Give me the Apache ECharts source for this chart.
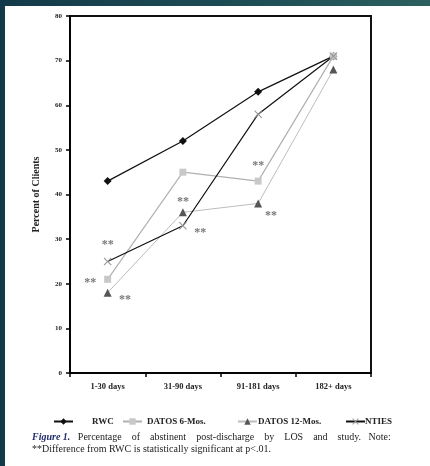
<!DOCTYPE html>
<html>
<head>
<meta charset="utf-8">
<script src="https://cdn.jsdelivr.net/npm/echarts@6/dist/echarts.min.js"></script>
<style>
  html, body { margin: 0; padding: 0; }
  body { width: 430px; height: 466px; position: relative; overflow: hidden;
         background: linear-gradient(to right, #133a4a 0%, #1d4c55 55%, #2b605e 100%); }
  #page { position: absolute; left: 5px; top: 6px; right: 0; bottom: 0; background: #fff; }
  #chartMain { position: absolute; left: 0; top: 0; width: 430px; height: 466px; }
</style>
</head>
<body>
<div id="page"></div>
<div id="chartMain"></div>
<script>
var categories = ['1-30 days', '31-90 days', '91-181 days', '182+ days'];
var rwc = [43, 52, 63, 71];
var datos6 = [21, 45, 43, 71];
var datos12 = [18, 36, 38, 68];
var nties = [25, 33, 58, 71];
// significance marks: [position on 0-4 scale, value]
var sigMarks = [[0.5, 28.6], [0.27, 20.3], [0.73, 16.4], [1.5, 38.4], [1.73, 31.3], [2.5, 46.3], [2.67, 35.2]];

var serif = '"Liberation Serif", "DejaVu Serif", serif';
var xPath = 'path://M0,1L1,0L5,4L9,0L10,1L6,5L10,9L9,10L5,6L1,10L0,9L4,5Z';

var myChart = echarts.init(document.getElementById('chartMain'));

function legendItem(name, left, pad) {
	return {
		data: [name],
		left: left,
		top: 412,
		itemWidth: 19,
		itemHeight: 8,
		selectedMode: false,
		textStyle: { fontFamily: serif, fontWeight: 'bold', fontSize: 9, color: '#222', padding: [0, 0, 0, pad] }
	};
}

var option = {
	animation: false,
	grid: { left: 70, top: 16, width: 301, height: 357, show: true, borderColor: '#111', borderWidth: 2 },
	legend: [
		legendItem('RWC', 48, 14),
		legendItem('DATOS 6-Mos.', 117, 0),
		legendItem('DATOS 12-Mos.', 232, -4),
		legendItem('NTIES', 340, -5)
	],
	xAxis: [{
		type: 'category',
		data: categories,
		boundaryGap: true,
		axisLine: { lineStyle: { color: '#000', width: 1.5 } },
		axisTick: { show: true, length: 4, lineStyle: { color: '#000', width: 1.5 } },
		axisLabel: { fontFamily: serif, fontWeight: 'bold', fontSize: 8.5, color: '#222', margin: 9 },
		splitLine: { show: false }
	}, {
		type: 'value', min: 0, max: 4, show: false
	}],
	yAxis: {
		type: 'value',
		min: 0, max: 80, interval: 10,
		name: 'Percent of Clients',
		nameLocation: 'middle',
		nameGap: 29,
		nameRotate: 90,
		nameTextStyle: { fontFamily: serif, fontWeight: 'bold', fontSize: 10, color: '#222' },
		axisLine: { show: true, lineStyle: { color: '#000', width: 1.5 } },
		axisTick: { show: true, length: 4, lineStyle: { color: '#000', width: 1.5 } },
		axisLabel: { fontFamily: serif, fontWeight: 'bold', fontSize: 7, color: '#222', margin: 8 },
		splitLine: { show: false }
	},
	series: [{
		name: 'RWC', type: 'line', data: rwc,
		symbol: 'diamond', symbolSize: 8,
		lineStyle: { color: '#111', width: 1.2 },
		itemStyle: { color: '#111' }
	}, {
		name: 'DATOS 6-Mos.', type: 'line', data: datos6,
		symbol: 'rect', symbolSize: 7,
		lineStyle: { color: '#b0b0b0', width: 1.2 },
		itemStyle: { color: '#c8c8c8' }
	}, {
		name: 'DATOS 12-Mos.', type: 'line', data: datos12,
		symbol: 'triangle', symbolSize: 8,
		lineStyle: { color: '#bcbcbc', width: 1 },
		itemStyle: { color: '#555' }
	}, {
		name: 'NTIES', type: 'line', data: nties,
		symbol: xPath, symbolSize: 8,
		lineStyle: { color: '#111', width: 1.2 },
		itemStyle: { color: '#999' }
	}, {
		name: 'sig', type: 'scatter', xAxisIndex: 1,
		data: sigMarks, symbolSize: 0, silent: true,
		label: { show: true, position: 'inside', formatter: '**', fontFamily: serif, fontWeight: 'bold', fontSize: 12, color: '#555' }
	}],
	graphic: [{
		type: 'text', left: 32, top: 431,
		style: {
			text: '{b|Figure 1.}   Percentage    of    abstinent    post-discharge    by    LOS    and    study.   Note:\n**Difference from RWC is statistically significant at p<.01.',
			fontFamily: serif, fontSize: 10, lineHeight: 12, fill: '#222',
			rich: { b: { fontFamily: serif, fontSize: 10, fontWeight: 'bold', fontStyle: 'italic', fill: '#1f2a6a' } }
		}
	}]
};

myChart.setOption(option);
</script>
</body>
</html>
